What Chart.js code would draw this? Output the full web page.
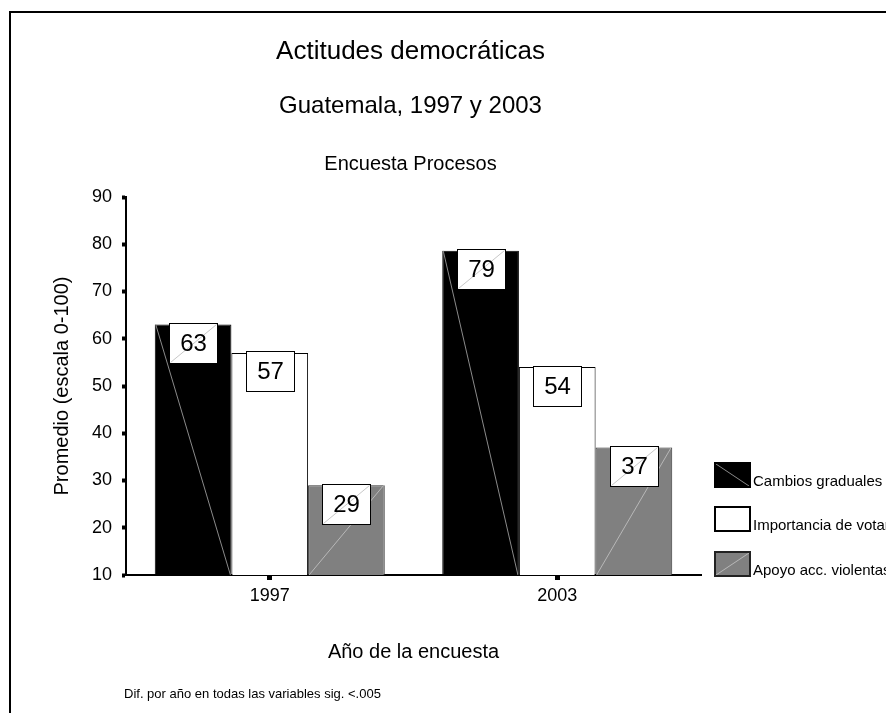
<!DOCTYPE html>
<html>
<head>
<meta charset="utf-8">
<script src="https://cdn.jsdelivr.net/npm/chart.js@4.4.1/dist/chart.umd.min.js"></script>
<style>
html,body{margin:0;padding:0;background:#fff;}
#wrap{width:886px;height:713px;position:relative;overflow:hidden;}
canvas{display:block;}
</style>
</head>
<body>
<div id="wrap"><canvas id="c" width="886" height="713"></canvas></div>
<script>
// ---- data ----
const categories = ['1997', '2003'];
const seriesNames = ['Cambios graduales', 'Importancia de votar', 'Apoyo acc. violentas'];
const cambiosGraduales = [63, 78.6];
const importanciaVotar = [57, 54];
const apoyoViolentas = [29, 37];
const yMin = 10, yMax = 90, yStep = 10;
const titleLines = ['Actitudes democráticas', 'Guatemala, 1997 y 2003', 'Encuesta Procesos'];
const yTitle = 'Promedio (escala 0-100)';
const xTitle = 'Año de la encuesta';
const footnote = 'Dif. por año en todas las variables sig. <.005';

const FONT = "'Liberation Sans', Arial, sans-serif";
const fills = ['#000000', '#ffffff', '#808080'];
const borders = ['#000000', '#000000', '#333333'];

const decor = {
  id: 'decor',
  beforeDraw(chart) {
    const ctx = chart.ctx;
    ctx.save();
    ctx.fillStyle = '#fff';
    ctx.fillRect(0, 0, chart.width, chart.height);
    ctx.strokeStyle = '#000';
    ctx.lineWidth = 2;
    ctx.strokeRect(10, 12, 1000, 1000);
    ctx.restore();
  },
  afterDatasetsDraw(chart) {
    const ctx = chart.ctx;
    const ca = chart.chartArea;
    ctx.save();
    // diagonal hatch lines inside bars
    chart.data.datasets.forEach((ds, di) => {
      const meta = chart.getDatasetMeta(di);
      meta.data.forEach((el) => {
        const p = el.getProps(['x', 'y', 'base', 'width'], true);
        const l = p.x - p.width / 2, r = p.x + p.width / 2;
        const b = Math.min(p.base, ca.bottom);
        ctx.lineWidth = 1;
        if (di === 0) {
          ctx.strokeStyle = '#8a8a8a';
          ctx.beginPath(); ctx.moveTo(l + 1, p.y); ctx.lineTo(r - 1, b); ctx.stroke();
        } else if (di === 2) {
          ctx.strokeStyle = '#b8b8b8';
          ctx.beginPath(); ctx.moveTo(l + 1, b); ctx.lineTo(r - 1, p.y); ctx.stroke();
        }
      });
    });
    // value label boxes
    chart.data.datasets.forEach((ds, di) => {
      const meta = chart.getDatasetMeta(di);
      meta.data.forEach((el, i) => {
        const p = el.getProps(['x', 'y'], true);
        const bw = 48, bh = 40;
        const bx = Math.round(p.x - bw / 2) + 0.5, by = Math.round(p.y - 1.5) + 0.5;
        ctx.fillStyle = '#fff';
        ctx.fillRect(bx, by, bw, bh);
        if (di !== 1) {
          ctx.strokeStyle = '#c8c8c8';
          ctx.lineWidth = 1;
          ctx.beginPath(); ctx.moveTo(bx + 1, by + bh - 1); ctx.lineTo(bx + bw - 1, by + 1); ctx.stroke();
        }
        ctx.strokeStyle = '#000';
        ctx.lineWidth = 1;
        ctx.strokeRect(bx, by, bw, bh);
        ctx.fillStyle = '#000';
        ctx.font = '24px ' + FONT;
        ctx.textAlign = 'center';
        ctx.textBaseline = 'middle';
        ctx.fillText(String(Math.round(ds.data[i])), bx + bw / 2, by + bh / 2 + 1);
      });
    });
    ctx.restore();
  },
  afterDraw(chart) {
    const ctx = chart.ctx;
    const ca = chart.chartArea;
    ctx.save();
    const cx = ca.left + (ca.right - ca.left) / 2 - 3;
    ctx.fillStyle = '#000';
    ctx.textAlign = 'center';
    ctx.textBaseline = 'alphabetic';
    ctx.font = '26px ' + FONT; ctx.fillText(titleLines[0], cx, 59);
    ctx.font = '24px ' + FONT; ctx.fillText(titleLines[1], cx, 113);
    ctx.font = '20px ' + FONT; ctx.fillText(titleLines[2], cx, 170);
    // footnote
    ctx.textAlign = 'left';
    ctx.font = '13px ' + FONT;
    ctx.fillText(footnote, ca.left - 2, 698);
    // legend
    const lx = ca.right + 14;
    const tops = [463, 507, 552];
    seriesNames.forEach((name, i) => {
      const t = tops[i];
      const w = 35, h = 24;
      ctx.fillStyle = fills[i];
      ctx.fillRect(lx, t, w, h);
      ctx.lineWidth = 1;
      if (i === 0) {
        ctx.strokeStyle = '#8a8a8a';
        ctx.beginPath(); ctx.moveTo(lx + 1, t + 1); ctx.lineTo(lx + w - 1, t + h - 1); ctx.stroke();
      } else if (i === 2) {
        ctx.strokeStyle = '#b8b8b8';
        ctx.beginPath(); ctx.moveTo(lx + 1, t + h - 1); ctx.lineTo(lx + w - 1, t + 1); ctx.stroke();
      }
      ctx.strokeStyle = i === 2 ? '#222' : '#000';
      ctx.lineWidth = 2;
      ctx.strokeRect(lx, t, w, h);
      ctx.fillStyle = '#000';
      ctx.font = '15px ' + FONT;
      ctx.textAlign = 'left';
      ctx.textBaseline = 'alphabetic';
      ctx.fillText(name, lx + 38, t + 23);
    });
    ctx.restore();
  }
};

const seriesValues = [cambiosGraduales, importanciaVotar, apoyoViolentas];

new Chart(document.getElementById('c'), {
  type: 'bar',
  data: {
    labels: categories,
    datasets: seriesNames.map((n, i) => ({
      label: n,
      data: seriesValues[i],
      backgroundColor: fills[i],
      borderColor: borders[i],
      borderWidth: 1,
      borderSkipped: false,
      categoryPercentage: 0.8,
      barPercentage: 1.0
    }))
  },
  options: {
    responsive: false,
    animation: false,
    devicePixelRatio: 1,
    layout: { padding: { top: 197, right: 185, left: 0, bottom: 0 } },
    plugins: {
      legend: { display: false },
      title: { display: false },
      tooltip: { enabled: false }
    },
    scales: {
      x: {
        type: 'category',
        afterFit(s) { s.height = 138; },
        grid: { display: true, offset: false, drawOnChartArea: false, drawTicks: true, tickLength: 5, tickWidth: 5, tickColor: '#000' },
        border: { display: true, color: '#000', width: 2 },
        ticks: { color: '#000', font: { family: FONT, size: 18 }, padding: 5 },
        title: { display: true, text: xTitle, color: '#000', font: { family: FONT, size: 20 }, padding: { top: 0, bottom: 49 } }
      },
      y: {
        min: yMin,
        max: yMax,
        afterFit(s) { s.width = 126; },
        grid: { display: true, drawOnChartArea: false, drawTicks: true, tickLength: 4, tickWidth: 4, tickColor: '#000' },
        border: { display: true, color: '#000', width: 2 },
        ticks: { stepSize: yStep, color: '#000', font: { family: FONT, size: 18 }, padding: 10 },
        title: { display: true, text: yTitle, color: '#000', font: { family: FONT, size: 20 }, padding: { top: 50, bottom: 0 } }
      }
    }
  },
  plugins: [decor]
});
</script>
</body>
</html>
